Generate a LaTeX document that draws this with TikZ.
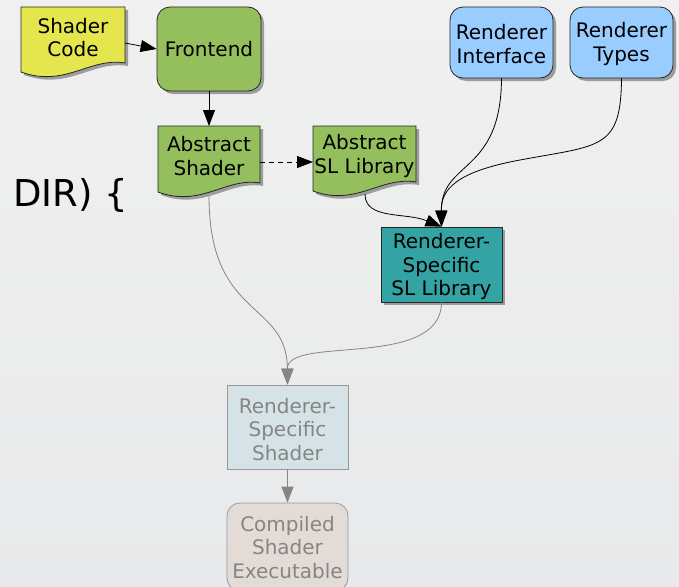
\documentclass[tikz,border=0pt]{standalone}
\usepackage{fontspec}
\setmainfont{DejaVu Sans}
\usetikzlibrary{arrows.meta}
\definecolor{bgtop}{HTML}{F0F0F0}
\definecolor{bgbot}{HTML}{E8E9EA}
\definecolor{cyellow}{HTML}{E5E64D}
\definecolor{cgreen}{HTML}{94BF5C}
\definecolor{cblue}{HTML}{99CCFF}
\definecolor{cteal}{HTML}{33A3A3}
\definecolor{cpale}{HTML}{D5E3E6}
\definecolor{cbeige}{HTML}{E3DBD6}
\definecolor{cgray}{HTML}{858585}
\tikzset{
  txt/.style={font=\fontsize{20}{23.5}\selectfont, align=center, inner sep=0pt},
  shapebox/.style={draw=black!85, line width=0.8pt, inner sep=0pt},
  shad/.style={fill=black!60, opacity=0.6},
  darr/.style={draw=black, line width=0.8pt, -{Triangle[length=16pt,width=12pt]}},
  garr/.style={draw=cgray, line width=0.8pt, -{Triangle[length=16pt,width=12pt]}},
}
\begin{document}
\begin{tikzpicture}[x=1pt,y=-1pt]
\useasboundingbox (0,0) rectangle (679,586);
\shade[top color=bgtop, bottom color=bgbot] (0,0) rectangle (679,586);
\clip (0,0) rectangle (679,586);

% shadows
\fill[shad] (24,10) -- (128,10) -- (128,66) .. controls (93,60) and (68,91) .. (24,75) -- cycle;
\fill[shad, rounded corners=13pt] (160,10) rectangle (264,94);
\fill[shad] (161,129) -- (263,129) -- (263,186) .. controls (229,180) and (204,211) .. (161,195) -- cycle;
\fill[shad] (316,129) -- (419,129) -- (419,185) .. controls (384,179) and (359,210) .. (316,194) -- cycle;
\fill[shad, rounded corners=13pt] (453,10) rectangle (556,81);
\fill[shad, rounded corners=13pt] (573,10) rectangle (676,81);
\fill[shad] (384,230) rectangle (505,305);

% document shapes
\draw[fill=cyellow, draw=black!85, line width=0.8pt] (21,7) -- (125,7) -- (125,63) .. controls (90,57) and (65,88) .. (21,72) -- cycle;
\draw[fill=cgreen, draw=black!85, line width=0.8pt] (158,126) -- (260,126) -- (260,183) .. controls (226,177) and (201,208) .. (158,192) -- cycle;
\draw[fill=cgreen, draw=black!85, line width=0.8pt] (313,126) -- (416,126) -- (416,182) .. controls (381,176) and (356,207) .. (313,191) -- cycle;

\node[txt] (code) at (73,37.5) {Shader\\Code};
\node[txt] (ashader) at (209,156) {Abstract\\Shader};
\node[txt] (aslib) at (364.5,156) {Abstract\\SL Library};
\coordinate (codeE) at (125,43);
\coordinate (ashaderS) at (209,196);
\coordinate (ashaderN) at (209,126);
\coordinate (ashaderE) at (260,162);
\coordinate (aslibW) at (313,162);
\coordinate (aslibS) at (365,194);

% boxes
\node[shapebox, fill=cgreen, rounded corners=13pt, minimum width=104pt, minimum height=84pt] (front) at (209,49) {};
\node[txt] (frontT) at (209,49.5) {Frontend};
\node[shapebox, fill=cblue, rounded corners=13pt, minimum width=103pt, minimum height=71pt] (rint) at (501.5,42.5) {};
\node[txt] (rintT) at (501.5,44) {Renderer\\Interface};
\node[shapebox, fill=cblue, rounded corners=13pt, minimum width=103pt, minimum height=71pt] (rtypes) at (621.5,42.5) {};
\node[txt] (rtypesT) at (621.5,44) {Renderer\\Types};
\node[shapebox, fill=cteal, minimum width=121pt, minimum height=75pt] (rslib) at (441.5,264.5) {};
\node[txt] (rslibT) at (441.5,266.5) {Renderer-\\Specific\\SL Library};
\node[shapebox, draw=black!40, fill=cpale, minimum width=121pt, minimum height=84pt] (rshader) at (287.5,427) {};
\node[txt, text=cgray] (rshaderT) at (287.5,429.5) {Renderer-\\Specific\\Shader};
\node[shapebox, draw=black!40, fill=cbeige, rounded corners=13pt, minimum width=121pt, minimum height=88pt] (comp) at (287.5,547) {};
\node[txt, text=cgray] (compT) at (287.5,547.5) {Compiled\\Shader\\Executable};

\node[font=\fontsize{37}{40}\selectfont, anchor=base west, inner sep=0pt] (dir) at (13,206) {DIR) \{};

% connectors
\draw[darr] (codeE) -- (front.west);
\draw[darr] (front.south) -- (ashaderN);
\draw[darr, dash pattern=on 5pt off 4pt] (ashaderE) -- (aslibW);
\draw[darr] (rint.south) .. controls (501,175) and (441,160) .. (rslib.north);
\draw[darr] (rtypes.south) .. controls (621,150) and (600,145) .. (520,160) .. controls (455,172) and (441,190) .. (rslib.north);
\draw[darr] (aslibS) .. controls (365,220) and (405,212) .. (rslib.north);
\draw[garr] (ashaderS) .. controls (209,320) and (287,300) .. (rshader.north);
\draw[garr] (rslib.south) .. controls (441,370) and (287,335) .. (rshader.north);
\draw[garr] (rshader.south) -- (comp.north);
\end{tikzpicture}
\end{document}
